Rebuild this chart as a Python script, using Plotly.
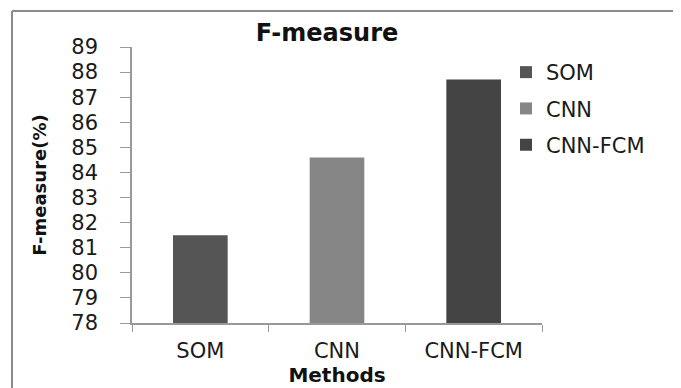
import plotly.graph_objects as go

methods = ["SOM", "CNN", "CNN-FCM"]
fmeasure = [81.5, 84.6, 87.7]
colors = ["#555555", "#868686", "#444444"]
y_ticks = list(range(78, 90))

FONT = "DejaVu Sans"

fig = go.Figure()
for m, v, c in zip(methods, fmeasure, colors):
    fig.add_trace(go.Bar(
        x=[m], y=[v], name=m, marker=dict(color=c, line=dict(width=0)),
        legendgroup=m, width=0.4,
    ))

# Geometry (pixels, in window coordinates; page body has an 8px margin)
O = 8
W, H = 681 - O, 388 - O
L, T = 132 - O, 47 - O
R = 681 - 542
B = 388 - 323
pw, ph = W - L - R, H - T - B

def px_x(x):
    return (x - O - L) / pw

def px_y(y):
    return 1 - (y - O - T) / ph

fig.update_layout(
    width=W, height=H,
    margin=dict(l=L, r=R, t=T, b=B, pad=0, autoexpand=False),
    paper_bgcolor="white", plot_bgcolor="white",
    font=dict(family=FONT, size=21, color="#1a1a1a"),
    title=dict(text="<b>F-measure</b>", font=dict(family=FONT, size=24, color="#111111"),
               x=px_x(327), xref="paper", xanchor="center",
               y=1 - (33 - O) / H, yanchor="middle"),
    barmode="overlay",
    showlegend=True,
    legend=dict(x=px_x(506), y=px_y(52), xanchor="left", yanchor="top",
                xref="paper", yref="paper",
                font=dict(family=FONT, size=21, color="#1a1a1a"),
                traceorder="grouped", tracegroupgap=6,
                bgcolor="rgba(0,0,0,0)", itemclick=False),
    xaxis=dict(
        type="category", categoryorder="array", categoryarray=methods,
        showline=True, linecolor="#999999", linewidth=1.5,
        ticks="outside", tickson="boundaries", ticklen=7, tickcolor="#999999",
        ticklabelstandoff=8, automargin=False,
        showgrid=False, tickfont=dict(family=FONT, size=21, color="#1a1a1a"),
        title=dict(text="<b>Methods</b>", font=dict(family=FONT, size=20, color="#111111"),
                   standoff=4),
    ),
    yaxis=dict(
        range=[78, 89], tickmode="array", tickvals=y_ticks + [89],
        showline=True, linecolor="#999999", linewidth=1.5,
        ticks="outside", ticklen=10, tickcolor="#999999",
        ticklabelstandoff=18, automargin=False,
        showgrid=False, zeroline=False,
        tickfont=dict(family=FONT, size=21, color="#1a1a1a"),
        title=dict(text="<b>F-measure(%)</b>", font=dict(family=FONT, size=18, color="#111111"),
                   standoff=20),
    ),
    shapes=[
        dict(type="line", xref="paper", yref="paper",
             x0=px_x(12), x1=px_x(12), y0=px_y(11), y1=px_y(400),
             line=dict(color="#8c8c8c", width=2)),
        dict(type="line", xref="paper", yref="paper",
             x0=px_x(12), x1=px_x(690), y0=px_y(11), y1=px_y(11),
             line=dict(color="#8c8c8c", width=2)),
    ],
)

fig.write_html("out.html")
